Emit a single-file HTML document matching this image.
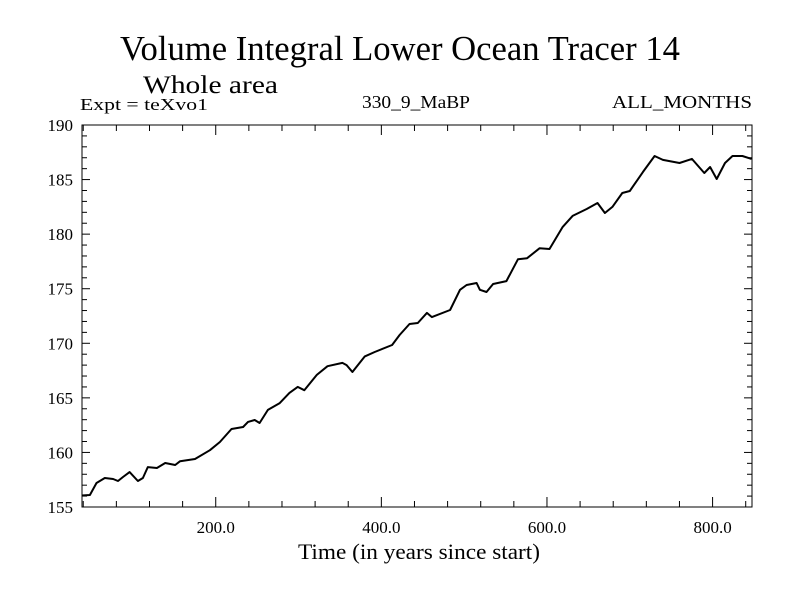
<!DOCTYPE html>
<html><head><meta charset="utf-8"><style>
body{margin:0;background:#fff;}
svg text{font-family:"Liberation Serif",serif;fill:#000;}
</style></head><body>
<svg id="chart" width="800" height="600" viewBox="0 0 800 600">
<rect width="800" height="600" fill="#fff"/>
<text x="400" y="60" font-size="35" text-anchor="middle" textLength="560" lengthAdjust="spacingAndGlyphs">Volume Integral Lower Ocean Tracer 14</text>
<text x="143" y="93" font-size="25" textLength="135" lengthAdjust="spacingAndGlyphs">Whole area</text>
<text x="80" y="110" font-size="17" textLength="128" lengthAdjust="spacingAndGlyphs">Expt = teXvo1</text>
<text x="362" y="108" font-size="18" textLength="108" lengthAdjust="spacingAndGlyphs">330_9_MaBP</text>
<text x="612" y="108" font-size="18" textLength="140" lengthAdjust="spacingAndGlyphs">ALL_MONTHS</text>
<text x="298" y="559" font-size="22" textLength="242" lengthAdjust="spacingAndGlyphs">Time (in years since start)</text>
<g id="axes"></g>
<path id="series" fill="none" stroke="#000" stroke-width="2" stroke-linejoin="round"/>
<rect x="82" y="125" width="670" height="382" fill="none" stroke="#000" stroke-width="1"/>
</svg>
<script>
const years=[38,48,56,66,76,82,88,96,106,112,118,129,139,151,157,175,193,205,219,233,239,247,253,263,277,289,299,307,322,335,353,358,365,380,392,413,422,434,444,455,461,483,495,503,515,519,527,535,551,565,576,591,603,619,631,648,661,670,679,691,700,716,730,740,760,775,790,797,805,815,824,836,847];
const values=[156.05,156.1,157.2,157.66,157.57,157.38,157.75,158.2,157.38,157.66,158.66,158.57,159.03,158.85,159.2,159.4,160.2,160.96,162.15,162.33,162.8,162.97,162.7,163.9,164.5,165.45,166.0,165.7,167.1,167.9,168.2,168.0,167.37,168.8,169.2,169.84,170.76,171.77,171.86,172.78,172.4,173.05,174.9,175.34,175.52,174.9,174.7,175.43,175.7,177.7,177.8,178.7,178.64,180.66,181.67,182.3,182.85,181.94,182.5,183.77,183.95,185.7,187.16,186.8,186.52,186.89,185.6,186.15,185.05,186.52,187.16,187.16,186.89];
const yTicks=[155,160,165,170,175,180,185,190];
const xTicks=[200,400,600,800];
const xTickLabels=["200.0","400.0","600.0","800.0"];
const X0=82,X1=752,Y0=507,Y1=125,xmin=38.5,xmax=847.6,ymin=155,ymax=190;
const sx=v=>X0+(v-xmin)/(xmax-xmin)*(X1-X0);
const sy=v=>Y0-(v-ymin)/(ymax-ymin)*(Y0-Y1);
const NS="http://www.w3.org/2000/svg";
const g=document.getElementById('axes');
function ln(x1,y1,x2,y2,name){const l=document.createElementNS(NS,'line');
l.setAttribute('x1',x1);l.setAttribute('y1',y1);l.setAttribute('x2',x2);l.setAttribute('y2',y2);
l.setAttribute('stroke','#000');l.setAttribute('stroke-width','1');


g.appendChild(l);}
function tx(x,y,s,anchor,name){const t=document.createElementNS(NS,'text');
t.setAttribute('x',x);t.setAttribute('y',y);t.setAttribute('font-size','17');t.setAttribute('text-anchor',anchor);t.textContent=s;


g.appendChild(t);}
for(let v=ymin;v<=ymax;v++){const y=sy(v),L=(v%5===0)?8:5;ln(X0,y,X0+L,y,'y-tick');ln(X1-L,y,X1,y,'y-tick-right');}
yTicks.forEach(v=>tx(73,sy(v)+6,String(v),'end','y-tick-label'));
for(let v=40;v<xmax;v+=40){const x=sx(v),L=(v%200===0)?10:6;ln(x,Y0,x,Y0-L,'x-tick');ln(x,Y1,x,Y1+L,'x-tick-top');}
xTicks.forEach((v,i)=>tx(sx(v),533,xTickLabels[i],'middle','x-tick-label'));
document.getElementById('series').setAttribute('d',years.map((v,i)=>(i?'L':'M')+sx(v).toFixed(1)+','+sy(values[i]).toFixed(1)).join(''));
</script>
</body></html>
